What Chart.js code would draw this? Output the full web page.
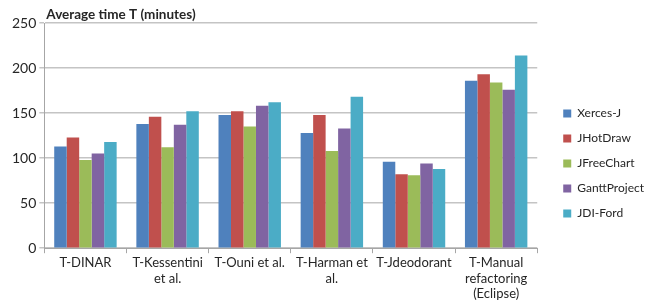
<!DOCTYPE html>
<html>
<head>
<meta charset="utf-8">
<title>Average time T</title>
<script src="https://cdn.jsdelivr.net/npm/chart.js@4"></script>
<style>
    body { margin: 0; background: #fff; }
    #wrap { width: 647px; height: 307px; }
</style>
</head>
<body>
<div id="wrap"><canvas id="timeChart"></canvas></div>
<script>
// data
const approaches = [
    ['T-DINAR'],
    ['T-Kessentini', 'et al.'],
    ['T-Ouni et al.'],
    ['T-Harman et', 'al.'],
    ['T-Jdeodorant'],
    ['T-Manual', 'refactoring', '(Eclipse)']
];
const seriesNames = ['Xerces-J', 'JHotDraw', 'JFreeChart', 'GanttProject', 'JDI-Ford'];
const xercesJ = [113, 138, 148, 128, 96, 186];
const jHotDraw = [123, 146, 152, 148, 82, 193];
const jFreeChart = [98, 112, 135, 108, 81, 184];
const ganttProject = [105, 137, 158, 133, 94, 176];
const jdiFord = [118, 152, 162, 168, 88, 214];
const yTicks = [0, 50, 100, 150, 200, 250];
const seriesColors = ['#4f81bd', '#c0504d', '#9bbb59', '#8064a2', '#4bacc6'];

const fontFamily = 'Lato, "Open Sans", sans-serif';

// title sits just above the plot, flush with the y axis
const topTitle = {
    id: 'topTitle',
    afterDraw(chart) {
        const ctx = chart.ctx;
        ctx.save();
        ctx.font = 'bold 13.5px ' + fontFamily;
        ctx.fillStyle = '#262626';
        ctx.textAlign = 'left';
        ctx.textBaseline = 'bottom';
        ctx.fillText('Average time T (minutes)', chart.chartArea.left + 2, chart.chartArea.top - 2);
        ctx.restore();
    }
};

// leave a wider gap between the plot and the legend
const legendGap = {
    id: 'legendGap',
    beforeLayout(chart) {
        const lg = chart.legend;
        if (lg && !lg._gapDone) {
            const fit = lg.fit.bind(lg);
            lg.fit = function () {
                fit();
                this.width += 4;
            };
            lg._gapDone = true;
        }
    },
    afterLayout(chart) {
        if (chart.legend) chart.legend.left += 13;
    }
};

const allSeries = [xercesJ, jHotDraw, jFreeChart, ganttProject, jdiFord];

new Chart(document.getElementById('timeChart'), {
    type: 'bar',
    data: {
        labels: approaches,
        datasets: allSeries.map((values, i) => ({
            label: seriesNames[i],
            data: values,
            backgroundColor: seriesColors[i],
            borderWidth: 0,
            barPercentage: 1,
            categoryPercentage: 0.76
        }))
    },
    options: {
        responsive: true,
        maintainAspectRatio: false,
        animation: false,
        layout: {
            padding: { top: 23, left: 9, right: 2, bottom: 3 }
        },
        scales: {
            x: {
                grid: {
                    display: true,
                    drawOnChartArea: false,
                    tickLength: 5,
                    color: '#a6a6a6'
                },
                border: { color: '#a6a6a6' },
                ticks: {
                    color: '#262626',
                    font: { family: fontFamily, size: 13 },
                    maxRotation: 0,
                    autoSkip: false,
                    padding: 2
                }
            },
            y: {
                min: 0,
                max: 250,
                afterBuildTicks(axis) {
                    axis.ticks = yTicks.map(v => ({ value: v }));
                },
                grid: {
                    color: '#c4c4c4',
                    lineWidth: 1.5,
                    tickLength: 5
                },
                border: { color: '#a6a6a6' },
                ticks: {
                    color: '#262626',
                    font: { family: fontFamily, size: 14 },
                    padding: 3
                }
            }
        },
        plugins: {
            legend: {
                display: true,
                position: 'right',
                labels: {
                    boxWidth: 8,
                    boxHeight: 8,
                    padding: 13,
                    color: '#262626',
                    font: { family: fontFamily, size: 12 }
                }
            },
            tooltip: { enabled: false }
        }
    },
    plugins: [topTitle, legendGap]
});
</script>
</body>
</html>
